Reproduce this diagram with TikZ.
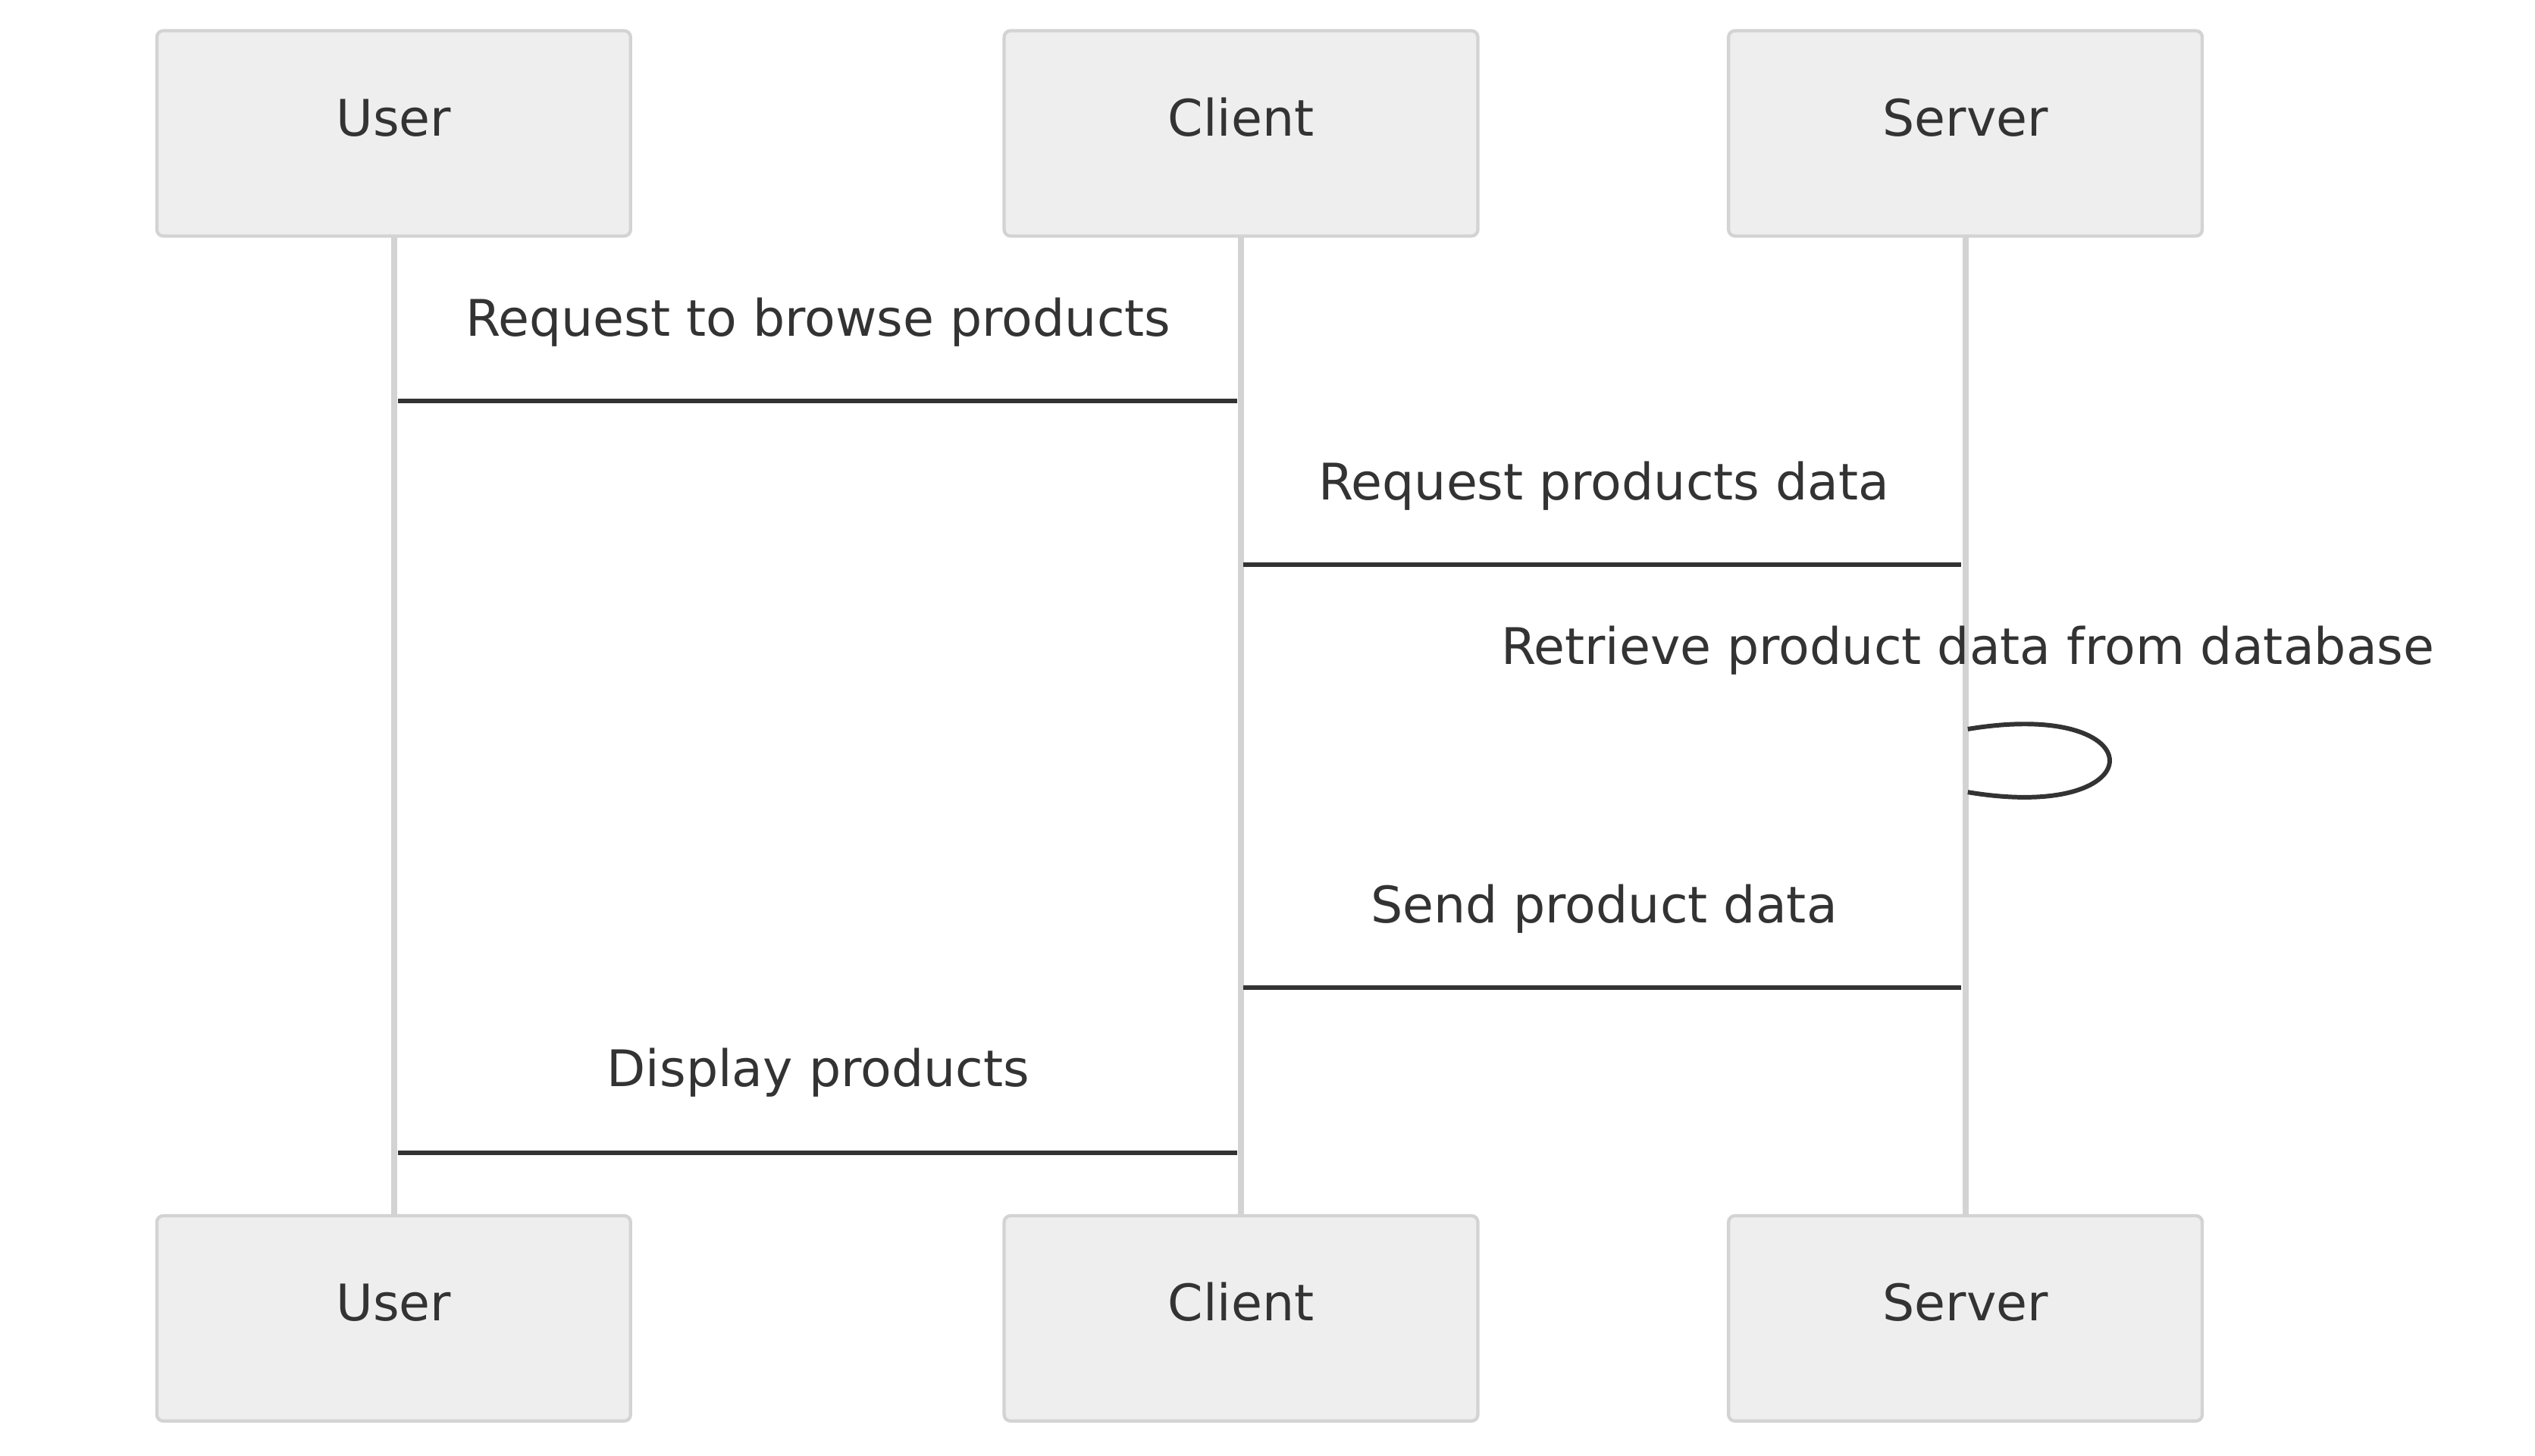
\documentclass[tikz,border=0pt]{standalone}
\usepackage{fontspec}
\setmainfont{DejaVu Sans}
\definecolor{boxfill}{HTML}{EEEEEE}
\definecolor{boxline}{HTML}{D3D3D3}
\definecolor{ink}{HTML}{333333}
\begin{document}
\begin{tikzpicture}[x=1pt,y=-1pt,
  actor/.style={draw=boxline,line width=2pt,fill=boxfill,rounded corners=4pt,minimum width=293pt,minimum height=127pt,inner sep=0pt},
  atext/.style={font=\fontsize{31.2}{31.2}\selectfont,text=ink,anchor=base,inner sep=0pt},
  life/.style={draw=boxline,line width=3.7pt},
  msg/.style={draw=ink,line width=2.8pt},
  mtext/.style={font=\fontsize{31.2}{31.2}\selectfont,text=ink,anchor=base,inner sep=0pt}]
\useasboundingbox (0,0) rectangle (1567.8,900.5);
% lifelines (drawn first, behind boxes)
\coordinate (uL1) at (244,146); \coordinate (uL2) at (244,752);
\coordinate (cL1) at (767.5,146); \coordinate (cL2) at (767.5,752);
\coordinate (sL1) at (1215.5,146); \coordinate (sL2) at (1215.5,752);
\draw[life] (uL1) -- (uL2);
\draw[life] (cL1) -- (cL2);
\draw[life] (sL1) -- (sL2);
% top actors
\node[actor] (uT) at (243.5,82.5) {};
\node[actor] (cT) at (767.5,82.5) {};
\node[actor] (sT) at (1215.5,82.5) {};
\node[atext] (uTt) at (243.5,84) {User};
\node[atext] (cTt) at (767.5,84) {Client};
\node[atext] (sTt) at (1215.5,84) {Server};
% bottom actors
\node[actor] (uB) at (243.5,815.5) {};
\node[actor] (cB) at (767.5,815.5) {};
\node[actor] (sB) at (1215.5,815.5) {};
\node[atext] (uBt) at (243.5,817) {User};
\node[atext] (cBt) at (767.5,817) {Client};
\node[atext] (sBt) at (1215.5,817) {Server};
% messages
\coordinate (m1a) at (246,248); \coordinate (m1b) at (765,248);
\node[mtext] (t1) at (506,208) {Request to browse products};
\draw[msg] (m1a) -- (m1b);
\coordinate (m2a) at (769,349.5); \coordinate (m2b) at (1213,349.5);
\node[mtext] (t2) at (992,309) {Request products data};
\draw[msg] (m2a) -- (m2b);
\coordinate (m3a) at (1217,451); \coordinate (m3b) at (1217,490);
\node[mtext] (t3) at (1217,411) {Retrieve product data from database};
\draw[msg] (m3a) .. controls (1334,431.5) and (1334,509.5) .. (m3b);
\coordinate (m4a) at (769,611); \coordinate (m4b) at (1213,611);
\node[mtext] (t4) at (992,571) {Send product data};
\draw[msg] (m4a) -- (m4b);
\coordinate (m5a) at (246,713); \coordinate (m5b) at (765,713);
\node[mtext] (t5) at (506,672) {Display products};
\draw[msg] (m5a) -- (m5b);
\end{tikzpicture}
\end{document}
